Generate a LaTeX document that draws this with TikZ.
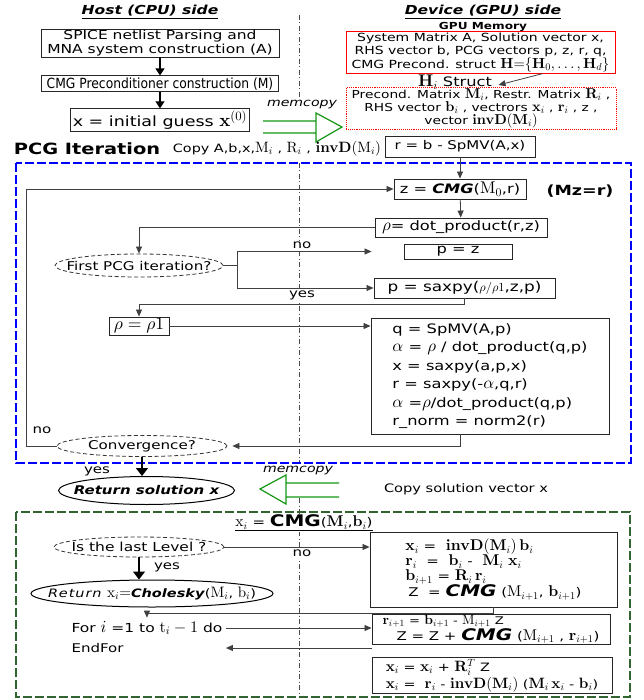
\documentclass[tikz,border=0pt]{standalone}
\usepackage[no-math]{fontspec}
\setmainfont[FakeStretch=1.25]{DejaVu Sans}
\newfontfamily\condfont[FakeStretch=0.88]{DejaVu Sans}
% larger, freely scalable math fonts next to the wide sans text
\DeclareFontShape{OT1}{cmr}{m}{n}{<->s*[1.3]cmr10}{}
\DeclareFontShape{OT1}{cmr}{bx}{n}{<->s*[1.3]cmbx10}{}
\DeclareFontShape{OML}{cmm}{m}{it}{<->s*[1.3]cmmi10}{}
\DeclareFontShape{OMS}{cmsy}{m}{n}{<->s*[1.3]cmsy10}{}
\usetikzlibrary{arrows.meta, positioning, shapes.geometric}
\newcommand{\fsz}[2]{\fontsize{#1}{#2}\selectfont}
\definecolor{memgreen}{RGB}{20,150,20}
\definecolor{cmggreen}{RGB}{50,100,50}

\begin{document}
\begin{tikzpicture}[x=1pt, y=-1pt,
    box/.style = {draw=black!85, line width=0.9pt, inner sep=1pt, align=center},
decision/.style = {ellipse, draw=black!80, line width=0.8pt,
                   dash pattern=on 4pt off 2.5pt, inner xsep=-50pt, inner ysep=-4pt},
terminal/.style = {ellipse, draw=black, line width=1pt, inner xsep=-50pt, inner ysep=-4pt},
     tag/.style = {fill=white, inner sep=1pt},
           > = {Triangle[length=7pt, width=6pt]},
    flow/.style = {draw=black!75, line width=0.8pt, ->},
 hostflow/.style = {draw=black, line width=1.2pt, -{Triangle[length=7pt, width=9pt]}},
 bigflow/.style = {draw=black, line width=1.5pt, -{Triangle[length=8pt, width=12pt]}},
 memcopy/.style = {draw=memgreen, line width=1.2pt},
    frame/.style = {line width=1.5pt, dash pattern=on 9pt off 3pt},
 divider/.style = {draw=black!70, line width=0.8pt, dash pattern=on 5pt off 2.5pt on 1pt off 2.5pt},
    ]
\useasboundingbox (0,0) rectangle (643,700);

% host / device divider
\draw[divider] (299,15) -- (299,97);
\draw[divider] (299,163) -- (299,463);
\draw[divider] (299,498) -- (299,697);

% frames
\draw[frame, blue] (16,163) rectangle (631,463);
\draw[frame, cmggreen] (16,512) rectangle (630,697);

%% host side
\node (hosttitle) [font=\fsz{12.4}{14}] at (150,12) {\underline{\textbf{\textit{Host (CPU) side}}}};
\node (spice) [box, minimum width=238pt, minimum height=28pt, font=\fsz{12.4}{14}] at (160,43)
      {SPICE netlist Parsing and\\MNA system construction (A)};
\node (cmg)   [box, below=18pt of spice, minimum width=237pt, minimum height=16pt,
               inner ysep=0pt, font=\condfont\fsz{14}{16}] {CMG Preconditioner construction (M)};
\node (init)  [box, below=16pt of cmg, minimum width=179pt, minimum height=23pt,
               font=\fsz{14}{16}] {x = initial guess $\mathbf{x}^{(0)}$};

\draw[hostflow] (spice) -- (cmg);
\draw[hostflow] (cmg) -- (init);

%% device side
\node (devtitle) [font=\fsz{12.4}{14}] at (483,12) {\underline{\textbf{\textit{Device (GPU) side}}}};
\node (gpumem) [font=\bfseries\fsz{9.7}{12}] at (483,27) {GPU Memory};
\node (gpu) [box, draw=red, minimum width=269pt, minimum height=39pt, font=\fsz{11.2}{13}] at (480.5,52.5)
      {System Matrix A, Solution vector x,\\RHS vector b, PCG vectors p, z, r, q,\\
       CMG Precond. struct $\mathbf{H}{=}\{\mathbf{H}_0,\ldots,\mathbf{H}_d\}$};
\node (hstruct) [font=\fsz{13}{14}] at (455,82) {$\mathbf{H}_i$ Struct};
\node (hlevel) [box, draw=red, densely dotted, line width=1pt, minimum width=270pt,
                minimum height=39pt, font=\fsz{11}{13}] at (481,108.5)
      {Precond. Matrix $\mathbf{M}_i$, Restr. Matrix $\mathbf{R}_i$ ,\\
       RHS vector $\mathbf{b}_i$ , vectrors $\mathbf{x}_i$ , $\mathbf{r}_i$ , z ,\\
       vector $\mathbf{invD}(\mathbf{M}_i)$};
\draw[flow] ([xshift=62pt]gpu.south) -- ([shift={(3pt,-3pt)}]hstruct.east);

% memcopy host -> device
\node (memup) [font=\itshape\fsz{11.3}{13}] at (302,105) {memcopy};
\draw[memcopy] (263,121) -- (316,121) (263,133) -- (316,133)
               (316,113) -- (342,127) -- (316,142) -- cycle;

%% PCG iteration
\node (pcgtitle) [font=\bfseries\fsz{15.5}{18}] at (87,149) {PCG Iteration};
\node (copyin) [font=\fsz{11.5}{13}] at (277,149)
      {Copy A,b,x,$\mathrm{M}_i$ , $\mathrm{R}_i$ , $\mathbf{invD}(\mathrm{M}_i)$};
\node (rinit) [box, minimum width=150pt, minimum height=21pt, font=\fsz{12}{14}] at (460,146.5)
      {r = b - SpMV(A,x)};
\node (zcmg) [box, minimum width=132pt, minimum height=20pt, font=\fsz{13}{15}] at (460,189)
      {z = \textbf{\textit{CMG}}($\mathrm{M}_0$,r)};
\node (mzr) [font=\bfseries\fsz{14}{16}] at (580,191) {(Mz=r)};
\node (rho) [box, minimum width=172pt, minimum height=19pt, font=\fsz{13}{15}] at (461,227.5)
      {$\rho$= dot\_product(r,z)};
\node (first) [decision, minimum width=168pt, minimum height=23pt, font=\fsz{12.1}{14}] at (139,265.5)
      {First PCG iteration?};
\node (pz) [box, minimum width=108pt, minimum height=15pt, inner ysep=0pt, font=\fsz{13}{15}] at (458,251.5)
      {p = z};
\coordinate (pzin) at ([xshift=-32pt]pz.west);
\node (psaxpy) [box, minimum width=181pt, minimum height=20pt, font=\fsz{13.5}{15}] at (464.5,288)
      {p = saxpy({\fsz{9.5}{12}$\rho/\rho1$},z,p)};
\node (rhoone) [box, minimum width=60pt, minimum height=18pt, inner sep=0pt, font=\fsz{13.5}{15}] at (139,326)
      {$\rho=\rho1$};
\node (qbox) [box, minimum width=238pt, minimum height=116pt, align=left, font=\fsz{13}{18.5}] at (490,376)
      {q = SpMV(A,p)\\$\alpha$ = $\rho$ / dot\_product(q,p)\\ x = saxpy(a,p,x)\\
       r = saxpy(-$\alpha$,q,r)\\$\alpha$ =$\rho$/dot\_product(q,p)\\ r\_norm = norm2(r)};
\node (conv) [decision, minimum width=170pt, minimum height=21pt, font=\fsz{12.1}{14}] at (142,446)
      {Convergence?};
\node (noA) [tag, anchor=south, font=\fsz{12}{14}] at (302,250) {no};
\node (yesA) [tag, anchor=north, font=\fsz{12}{14}] at (302,290) {yes};
\node (noB) [font=\fsz{12}{14}] at (42,430) {no};

\draw[flow] (rinit) -- (zcmg);
\draw[flow] (zcmg) -- (rho);
\draw[flow] (rho.west) -| (first.north);
\draw[flow] (first.east) -- ++(14,0) |- (pzin);
\draw[flow] (first.east) -- ++(14,0) |- (psaxpy.west);
\draw[flow] (psaxpy.south) -- ++(0,6) -| (rhoone.north);
\draw[flow] (rhoone.east) -- (rhoone.east -| qbox.west);
\draw[flow, shorten >=5pt] (qbox.south -| zcmg.south) |- (conv.east);
\draw[flow] (conv.west) -- ++(-30,0) |- (zcmg.west);

%% solution back to host
\node (ret) [terminal, minimum width=176pt, minimum height=28pt, font=\bfseries\itshape\fsz{12}{14}]
      at (146.5,490.5) {Return solution x};
\node (yesB) [font=\fsz{12}{14}] at (97,471) {yes};
\draw[bigflow] (conv.south) -- (conv.south |- ret.north);
\node (memdown) [font=\itshape\fsz{11.3}{13}] at (298,471) {memcopy};
\draw[memcopy] (339,483) -- (286,483) (339,497) -- (286,497)
               (286,475) -- (260,489) -- (286,504) -- cycle;
\node (copyout) [font=\fsz{11.7}{14}] at (466,489) {Copy solution vector x};

%% CMG recursion
\node (cmgtitle) [tag, font=\fsz{12}{15}] at (304,523)
      {\underline{$\mathrm{x}_i$ = {\fsz{16}{18}\textbf{CMG}}($\mathbf{M}_i$,$\mathbf{b}_i$)}};
\node (last) [decision, minimum width=170pt, minimum height=20pt, font=\fsz{12.4}{14}] at (139,547)
      {Is the last Level ?};
\node (chol) [terminal, minimum width=242pt, minimum height=27pt, font=\fsz{11.6}{14}] at (152,593.5)
      {{\addfontfeature{LetterSpace=8}\textit{Return}} $\mathrm{x}_i{=}$\textbf{\textit{Cholesky}}($\mathrm{M}_i$, $\mathrm{b}_i$)};
\node (noC) [tag, anchor=north, font=\fsz{12}{14}] at (302,549) {no};
\node (yesC) [font=\fsz{12}{14}] at (167,567) {yes};
\node (lb1) [box, minimum width=247pt, minimum height=75pt, align=left, font=\fsz{12}{15}] at (493.5,569.5)
      {$\mathbf{x}_i$ = \ $\mathbf{invD}(\mathbf{M}_i)\,\mathbf{b}_i$\\
       $\mathbf{r}_i$ \ = \ $\mathbf{b}_i$ - \ $\mathbf{M}_i$ $\mathbf{x}_i$\\
       $\mathbf{b}_{i+1}$ = $\mathbf{R}_i\,\mathbf{r}_i$\\
       \hspace*{3pt}Z \ = {\fsz{16}{18}\textbf{\textit{CMG}}} ($\mathrm{M}_{i+1}$, $\mathbf{b}_{i+1}$)};
\node (forl) [anchor=west, font=\fsz{12.4}{14}] at (68,628)
      {For {\fsz{13}{14}$i$} =1 to $\mathrm{t}_i-1$ do};
\node (endf) [anchor=west, font=\fsz{12}{14}] at (68,648) {EndFor};
\node (lb2) [box, minimum width=238pt, minimum height=27pt, align=left, font=\fsz{12}{12.5}] at (491,629.5)
      {{\fsz{10.5}{11}$\mathbf{r}_{i+1}$ = $\mathbf{b}_{i+1}$ - $\mathrm{M}_{i+1}$ Z}\\
       \hspace*{14pt}Z = Z + {\fsz{16}{16}\textbf{\textit{CMG}}} ($\mathrm{M}_{i+1}$ , $\mathbf{r}_{i+1}$)};
\node (lb3) [box, minimum width=240pt, minimum height=35pt, align=left, font=\fsz{11.5}{17}] at (492,675.5)
      {$\mathbf{x}_i$ = $\mathbf{x}_i$ + $\mathbf{R}_i^T$ Z\\
       $\mathbf{x}_i$ = \ $\mathbf{r}_i$ - $\mathbf{invD}(\mathbf{M}_i)$ ($\mathbf{M}_i\,\mathbf{x}_i$ - $\mathbf{b}_i$)};

\draw[flow] (last.east) -- (last.east -| lb1.west);
\draw[bigflow] (last.south) -- (last.south |- chol.north);
\draw[flow] (lb1.south) -- ++(0,6) -| (forl.north);
\draw[flow] (forl.east) -- (forl.east -| lb2.west);
\draw[flow] (lb2.west |- endf) -- (forl.east |- endf);
\end{tikzpicture}
\end{document}
